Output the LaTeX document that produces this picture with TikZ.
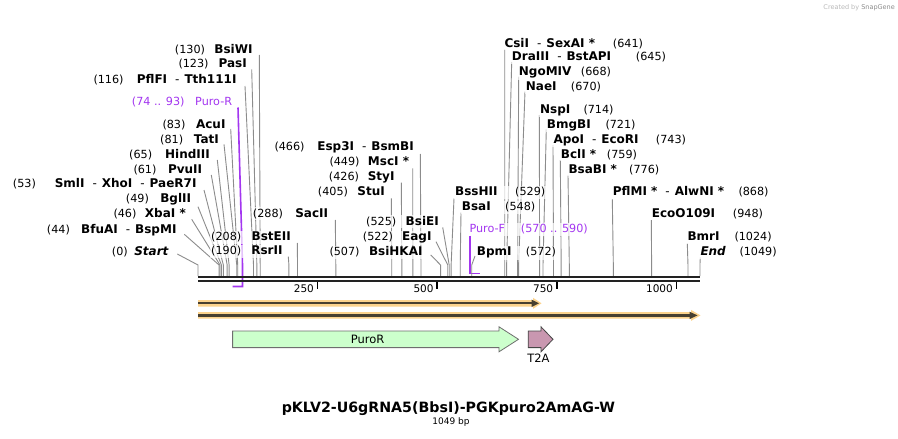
\documentclass[tikz,border=0pt]{standalone}
\usepackage{fontspec}
\setmainfont{DejaVu Sans}
\usetikzlibrary{fit}
\pgfdeclarelayer{bg}
\pgfdeclarelayer{back}
\pgfdeclarelayer{lines}
\pgfdeclarelayer{halo}
\pgfsetlayers{bg,back,lines,halo,main}
\definecolor{leadc}{RGB}{140,140,140}
\definecolor{primc}{RGB}{163,54,240}
\definecolor{barc}{RGB}{34,34,34}
\definecolor{orng}{RGB}{252,211,141}
\definecolor{arrd}{RGB}{72,64,48}
\definecolor{grnf}{RGB}{204,255,204}
\definecolor{grnd}{RGB}{110,110,110}
\definecolor{pnkf}{RGB}{201,151,176}
\definecolor{pnkd}{RGB}{70,70,70}
\tikzset{
 nm/.style={inner sep=0pt, font=\bfseries\fontsize{12}{14}\selectfont},
 nb/.style={inner sep=0pt, font=\fontsize{11.2}{13}\selectfont},
 halo/.style={fill=white, fill opacity=0.7, draw=none, inner sep=1pt},
 leader/.style={draw=leadc, line width=0.9pt},
 prim/.style={draw=primc, line width=1.6pt},
 tk/.style={inner sep=0pt, anchor=base east, font=\fontsize{10.5}{12}\selectfont},
 ft/.style={inner sep=0pt, font=\fontsize{11.5}{13}\selectfont},
}
\newcommand\dsh{\hspace{8pt}{\mdseries -}\hspace{5pt}}
\newcommand\siteL[9]{%
 \node[nm,anchor=base east] (#1) at ({#2},{#3+4.2}) {#8};
 \node[nb,anchor=base west] (#1n) at ({#4},{#3+4.2}) {#9};
 \begin{pgfonlayer}{halo}\node[halo,fit=(#1)(#1n)] (#1h) {};\end{pgfonlayer}
 \coordinate (#1s) at ({#5},{#6});
 \coordinate (#1k) at ({198+#7*0.4785},265);
 \coordinate (#1b) at ({198+#7*0.4785},276);
 \begin{pgfonlayer}{lines}\draw[leader] (#1s) -- (#1k) -- (#1b);\end{pgfonlayer}}
\newcommand\siteR[9]{%
 \node[nm,anchor=base west] (#1) at ({#2},{#3+4.2}) {#8};
 \node[nb,anchor=base west] (#1n) at ({#4},{#3+4.2}) {#9};
 \begin{pgfonlayer}{halo}\node[halo,fit=(#1)(#1n)] (#1h) {};\end{pgfonlayer}
 \coordinate (#1s) at ({#5},{#6});
 \coordinate (#1k) at ({198+#7*0.4785},265);
 \coordinate (#1b) at ({198+#7*0.4785},276);
 \begin{pgfonlayer}{lines}\draw[leader] (#1s) -- (#1k) -- (#1b);\end{pgfonlayer}}
\begin{document}
\begin{tikzpicture}[x=1pt,y=-1pt]
\begin{pgfonlayer}{bg}\fill[white] (0,0) rectangle (898,439);\end{pgfonlayer}
\useasboundingbox (0,0) rectangle (898,439);

% watermark
\node[inner sep=0pt, anchor=east, font=\fontsize{6.5}{8}\selectfont, text=gray!55] (wm) at (895,7.5) {Created by \textcolor{gray!90}{SnapGene}};

% left-side sites
\siteL{bsiwi}{252.7}{49}{174.7}{259.3}{55}{130}{BsiWI}{(130)}
\siteL{pasi}{247}{63.3}{178.3}{251.7}{69.3}{123}{PasI}{(123)}
\siteL{pflfi}{236.7}{79}{93.3}{245}{86}{116}{PflFI\dsh Tth111I}{(116)}
\siteL{acui}{225.7}{124.3}{162.3}{230.7}{129}{83}{AcuI}{(83)}
\siteL{tati}{219}{139}{160}{224}{144.3}{81}{TatI}{(81)}
\siteL{hind}{210}{154}{129}{217.3}{160}{65}{HindIII}{(65)}
\siteL{pvuii}{202.3}{169}{133.3}{211.3}{175}{61}{PvuII}{(61)}
\siteL{smli}{196.7}{183.7}{12.7}{204}{190}{53}{SmlI\dsh XhoI\dsh PaeR7I}{(53)}
\siteL{bglii}{191.3}{198.7}{125.7}{198}{206.7}{49}{BglII}{(49)}
\siteL{xbai}{186}{213.3}{113.3}{191.7}{219.3}{46}{XbaI *}{(46)}
\siteL{bfuai}{176.7}{229}{46.7}{184.3}{234.3}{44}{BfuAI\dsh BspMI}{(44)}
\siteL{start}{169}{251.7}{111.7}{177.3}{254}{0}{\textit{Start}}{(0)}
\siteL{bsteii}{291}{236.7}{211}{297.3}{243}{208}{BstEII}{(208)}
\siteL{rsrii}{282.7}{250.7}{211}{288.3}{256.7}{190}{RsrII}{(190)}
\siteL{sacii}{328.3}{213.3}{252.7}{335.3}{220}{288}{SacII}{(288)}
\siteL{stui}{385}{191.7}{317.7}{391.3}{198.3}{405}{StuI}{(405)}
\siteL{styi}{394.7}{176.7}{328.7}{401.3}{182.7}{426}{StyI}{(426)}
\siteL{msci}{409.3}{161.7}{329.3}{412.7}{168.3}{449}{MscI *}{(449)}
\siteL{esp}{414}{146}{274.3}{420.3}{154}{466}{Esp3I\dsh BsmBI}{(466)}
\siteL{bsiei}{439}{221}{366}{442.7}{227.3}{525}{BsiEI}{(525)}
\siteL{eagi}{431.7}{236.7}{362.7}{436}{241.7}{522}{EagI}{(522)}
\siteL{bsihk}{422.7}{251.7}{329.3}{430.7}{255}{507}{BsiHKAI}{(507)}

% right-side sites
\siteR{bsshii}{455}{191.7}{515}{454}{198.3}{529}{BssHII}{(529)}
\siteR{bsai}{461.7}{206.7}{505}{461}{212.7}{548}{BsaI}{(548)}
\siteR{bpmi}{476.7}{251.7}{525.7}{475}{256}{572}{BpmI}{(572)}
\siteR{csii}{504.3}{43.3}{612.7}{504.7}{49.3}{641}{CsiI\dsh SexAI *}{(641)}
\siteR{draiii}{511.7}{56.7}{635.7}{511.7}{62}{645}{DraIII\dsh BstAPI}{(645)}
\siteR{ngo}{518.7}{71.7}{580.7}{518.7}{76.7}{668}{NgoMIV}{(668)}
\siteR{naei}{525.7}{86.7}{570.7}{525}{91.7}{670}{NaeI}{(670)}
\siteR{nspi}{540}{109.3}{583.3}{539.3}{115}{714}{NspI}{(714)}
\siteR{bmgbi}{546.7}{124}{605.3}{546.3}{129.3}{721}{BmgBI}{(721)}
\siteR{apoi}{553.3}{139}{655.7}{553}{145}{743}{ApoI\dsh EcoRI}{(743)}
\siteR{bcli}{560.7}{154}{606.7}{560.3}{160}{759}{BclI *}{(759)}
\siteR{bsabi}{568.3}{169}{629}{568}{175}{776}{BsaBI *}{(776)}
\siteR{pflmi}{612.7}{191.7}{738.3}{612.3}{199.3}{868}{PflMI *\dsh AlwNI *}{(868)}
\siteR{eco}{651.7}{213.3}{732.7}{651.3}{220}{948}{EcoO109I}{(948)}
\siteR{bmri}{687.3}{236.7}{734.3}{687.3}{243.3}{1024}{BmrI}{(1024)}
\siteR{endd}{700.3}{251.7}{739.3}{700.3}{257.3}{1049}{\textit{End}}{(1049)}

% primers
\node[nb,anchor=base east,text=primc] (puror) at (232.3,105.9) {Puro-R};
\node[nb,anchor=base west,text=primc] (purorn) at (131.7,105.9) {(74 .. 93)};
\begin{pgfonlayer}{halo}\node[halo,fit=(puror)(purorn)] (purorh) {};\end{pgfonlayer}
\coordinate (purors) at (238,107.5);
\coordinate (purork) at (242.5,265);
\coordinate (purorb) at (242.5,286.5);
\coordinate (purore) at (232.6,286.5);
\begin{pgfonlayer}{back}\draw[prim] (purors) -- (purork) -- (purorb) -- (purore);\end{pgfonlayer}

\node[nb,anchor=base west,text=primc] (purof) at (469.3,232.9) {Puro-F};
\node[nb,anchor=base west,text=primc] (purofn) at (520.7,232.9) {(570 .. 590)};
\begin{pgfonlayer}{halo}\node[halo,fit=(purof)(purofn)] (purofh) {};\end{pgfonlayer}
\coordinate (purofs) at (470,235.5);
\coordinate (purofb) at (470,273.3);
\coordinate (purofe) at (480.2,273.3);
\begin{pgfonlayer}{back}\draw[prim] (purofs) -- (purofb) -- (purofe);\end{pgfonlayer}

% sequence bar
\draw[barc,line width=2.4pt] (198,277) -- (700,277);
\draw[barc,line width=2.2pt] (198,281.2) -- (700,281.2);

% ticks
\foreach \t in {250,500,750,1000}{
  \coordinate (tk\t) at ({198+\t*0.4785},282);
  \draw[black,line width=1.6pt] (tk\t) -- ++(0,7);
  \node[tk] (tl\t) at ({198+\t*0.4785-3.5},292.5) {\t};
}

% orange feature arrows
\fill[orng] (198,300) -- (533,300) -- (533,297.8) -- (541.5,303.3) -- (533,308.8) -- (533,306.6) -- (198,306.6) -- cycle;
\draw[arrd,line width=2.2pt] (198,303.3) -- (533,303.3);
\fill[arrd] (531.5,299.6) -- (539,303.3) -- (531.5,307) -- cycle;

\fill[orng] (198,312.1) -- (691,312.1) -- (691,309.9) -- (700.5,315.4) -- (691,320.9) -- (691,318.7) -- (198,318.7) -- cycle;
\draw[arrd,line width=2.2pt] (198,315.4) -- (691,315.4);
\fill[arrd] (689.5,311.7) -- (697.5,315.4) -- (689.5,319.1) -- cycle;

% PuroR
\draw[fill=grnf,draw=grnd,line width=0.8pt] (232.6,331) -- (499,331) -- (499,326.8) -- (518.5,339.3) -- (499,351.8) -- (499,347.6) -- (232.6,347.6) -- cycle;
\node[ft] (purolbl) at (367.6,339.3) {PuroR};
% T2A
\draw[fill=pnkf,draw=pnkd,line width=0.8pt] (528.2,331) -- (541,331) -- (541,326.8) -- (553,339.3) -- (541,351.8) -- (541,347.6) -- (528.2,347.6) -- cycle;
\node[ft] (t2albl) at (538.5,358) {T2A};

% title
\node[inner sep=0pt, font=\bfseries\fontsize{14.2}{16}\selectfont] (title) at (448.4,408.5) {pKLV2-U6gRNA5(BbsI)-PGKpuro2AmAG-W};
\node[inner sep=0pt, font=\fontsize{9}{10}\selectfont] (len) at (451,422.5) {1049 bp};
\end{tikzpicture}
\end{document}
